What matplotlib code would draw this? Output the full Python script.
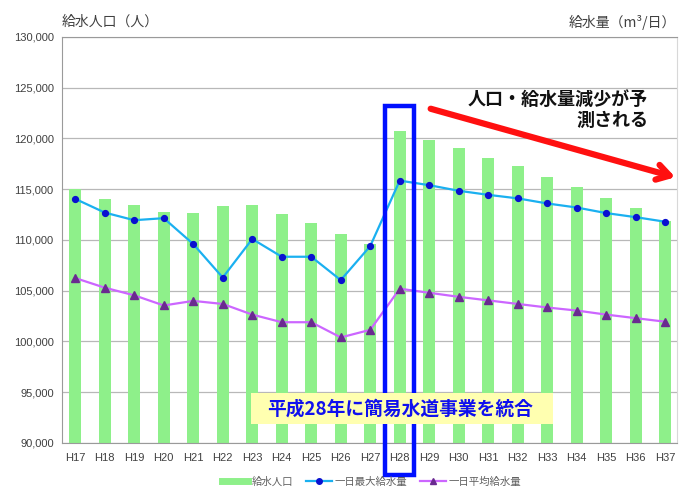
import matplotlib
matplotlib.use("Agg")
import matplotlib.pyplot as plt
from matplotlib.patches import Rectangle
from matplotlib.lines import Line2D
import numpy as np

plt.rcParams['font.family'] = ['Noto Sans CJK JP', 'DejaVu Sans']

# ============================
# DATA
# ============================
years = ["H17", "H18", "H19", "H20", "H21", "H22", "H23", "H24", "H25", "H26", "H27",
         "H28", "H29", "H30", "H31", "H32", "H33", "H34", "H35", "H36", "H37"]

population = [115000, 114000, 113450, 112800, 112700, 113350, 113450, 112550, 111700, 110550, 109600,
              120700, 119850, 119050, 118100, 117300, 116200, 115200, 114150, 113150, 111900]

max_supply = [114050, 112700, 111950, 112150, 109600, 106300, 110100, 108350, 108350, 106050, 109400,
              115850, 115400, 114850, 114450, 114100, 113600, 113200, 112650, 112250, 111800]

avg_supply = [106250, 105300, 104550, 103550, 104000, 103700, 102650, 101900, 101900, 100400, 101150,
              105200, 104800, 104400, 104050, 103700, 103350, 103050, 102650, 102300, 101950]

TXT = "#404040"
GRID = "#b8b8b8"
TICK_FONT = ['Liberation Sans', 'DejaVu Sans']

fig = plt.figure(figsize=(6.8, 4.92), dpi=100)
ax = fig.add_axes([62 / 680, 49 / 492, 615 / 680, 406 / 492])

x = np.arange(len(years))

ax.bar(x, population, width=0.42, color="#8ef08a", zorder=2)
ax.plot(x, max_supply, color="#1ab0f0", lw=1.6, marker="o", ms=4.2,
        mfc="#0a10d0", mec="#0a10d0", zorder=4)
ax.plot(x, avg_supply, color="#cc66ff", lw=1.6, marker="^", ms=5.2,
        mfc="#6a2a90", mec="#6a2a90", zorder=4)

ax.set_xlim(-0.45, 20.4)
ax.set_ylim(90000, 130000)
ax.set_yticks(np.arange(90000, 130001, 5000))
ax.set_yticklabels([f"{v:,}" for v in range(90000, 130001, 5000)])
ax.set_xticks(x)
ax.set_xticklabels(years)
ax.tick_params(axis="both", length=0, labelsize=8, colors=TXT)
ax.tick_params(axis="x", pad=7)
ax.tick_params(axis="y", pad=6)
for lab in ax.get_xticklabels() + ax.get_yticklabels():
    lab.set_family(TICK_FONT)
ax.grid(axis="y", color=GRID, lw=0.9, zorder=0)
for side in ["left", "bottom", "top", "right"]:
    ax.spines[side].set_color("#9a9a9a")
ax.spines["right"].set_color("#d8d8d8")

# axis titles
fig.text(62 / 680, 1 - 22 / 492, "給水人口（人）", fontsize=10, color=TXT,
         ha="left", va="center")
fig.text(676 / 680, 1 - 22 / 492, "給水量（m³/日）", fontsize=10, color=TXT,
         ha="right", va="center")

# H28 highlight box
ax.add_patch(Rectangle((10.5, 86850), 1.0, 36400, fill=False, ec="#0010ff",
                       lw=3.2, clip_on=False, zorder=6))

# merger note
fig.patches.append(Rectangle((251 / 680, 1 - 424 / 492), 302 / 680, 31 / 492,
                             transform=fig.transFigure, fc="#ffffb0", ec="none",
                             zorder=5))
fig.text(400 / 680, 1 - 409 / 492, "平成28年に簡易水道事業を統合", fontsize=13.5,
         fontweight="bold", color="#1010ee", ha="center", va="center", zorder=7)

# trend arrow
ax.annotate("", xy=(678 / 680, 1 - 178 / 492), xycoords="figure fraction",
            xytext=(428 / 680, 1 - 108 / 492), textcoords="figure fraction",
            arrowprops=dict(arrowstyle="->, head_length=0.9, head_width=0.55",
                            color="#ff1010", lw=4.5), annotation_clip=False)
fig.text(648 / 680, 1 - 110 / 492, "人口・給水量減少が予\n測される", fontsize=13,
         fontweight="bold", color="#111111", ha="right", va="center",
         linespacing=1.15, multialignment="right")

# legend
handles = [
    Line2D([], [], color="#8ef08a", lw=5),
    Line2D([], [], color="#1ab0f0", lw=1.6, marker="o", ms=4, mfc="#0a10d0", mec="#0a10d0"),
    Line2D([], [], color="#cc66ff", lw=1.6, marker="^", ms=5, mfc="#6a2a90", mec="#6a2a90"),
]
labels = ["給水人口", "一日最大給水量", "一日平均給水量"]
leg = fig.legend(handles, labels, loc="center", bbox_to_anchor=(372 / 680, 1 - 482 / 492),
                 ncol=3, frameon=False, fontsize=7.5, handlelength=2.5,
                 columnspacing=1.2, handletextpad=0.3)
for t in leg.get_texts():
    t.set_color("#606060")

fig.savefig("out.png", dpi=100)
